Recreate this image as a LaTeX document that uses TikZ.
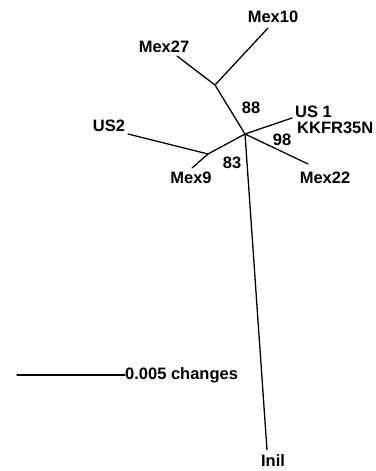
\documentclass[tikz,border=0pt]{standalone}
\usepackage{fontspec}
\setmainfont{Liberation Sans}
\usetikzlibrary{positioning}

\begin{document}
\begin{tikzpicture}[x=1pt,y=-1pt,
  taxon/.style={font=\bfseries\fontsize{16.5}{18}\selectfont,inner sep=0pt},
  boot/.style={font=\bfseries\fontsize{16.5}{18}\selectfont,inner sep=0pt},
  branch/.style={line width=1.3pt,line cap=round,line join=round}]
\useasboundingbox (0,0) rectangle (375,471);
% inner nodes of the tree
\coordinate (hub) at (245,134);
\coordinate (nA) at (215,85);
\coordinate (nB) at (208,154);
% tips
\coordinate (tMex10) at (268,28);
\coordinate (tMex27) at (177,56);
\coordinate (tUS1) at (292,118);
\coordinate (tMex22) at (308,164);
\coordinate (tUS2) at (128,134);
\coordinate (tMex9) at (192,168);
\coordinate (tInil) at (267,450);
\node[taxon] (Mex10) at (273,17) {Mex10};
\node[taxon] (Mex27) at (164,47) {Mex27};
\node[taxon,anchor=west] (US1) at (295,112) {US 1};
\node[taxon,anchor=west] (KKFR) at (297,128) {KKFR35N};
\node[taxon] (Mex22) at (325,178) {Mex22};
\node[taxon] (US2) at (109,126) {US2};
\node[taxon] (Mex9) at (191,178) {Mex9};
\node[taxon] (Inil) at (273,461) {Inil};
\node[boot] (b88) at (251,108) {88};
\node[boot] (b98) at (282,140) {98};
\node[boot] (b83) at (232,163) {83};
\draw[branch] (hub)--(nA); \draw[branch] (nA)--(tMex10); \draw[branch] (nA)--(tMex27);
\draw[branch] (hub)--(tUS1); \draw[branch] (hub)--(tMex22); \draw[branch] (hub)--(tInil);
\draw[branch] (hub)--(nB); \draw[branch] (nB)--(tUS2); \draw[branch] (nB)--(tMex9);
% scale bar
\coordinate (s0) at (17,375);
\node[taxon,anchor=west] (scale) at (125,375) {0.005 changes};
\draw[branch] (s0)--(scale.west);
\end{tikzpicture}
\end{document}
